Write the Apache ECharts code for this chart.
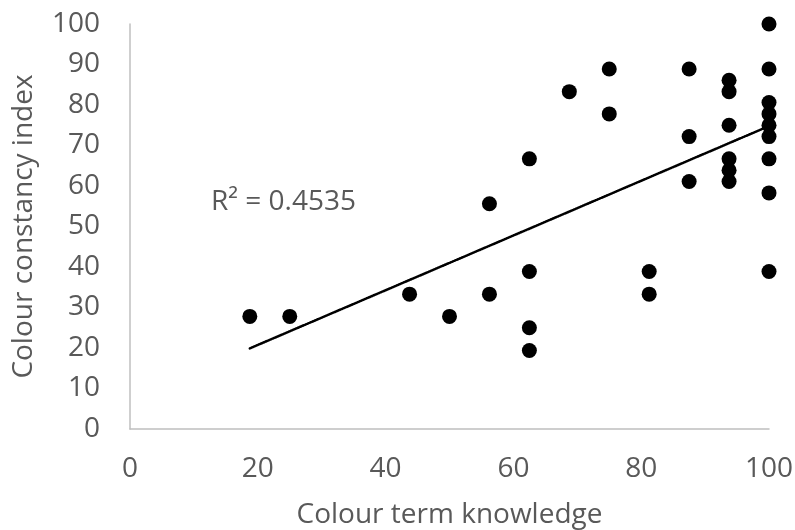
<!DOCTYPE html>
<html>
<head>
<meta charset="utf-8">
<script src="https://cdn.jsdelivr.net/npm/echarts@6/dist/echarts.min.js"></script>
<style>html,body{margin:0;padding:0;background:#fff}#c{width:795px;height:530px}</style>
</head>
<body>
<div id="c"></div>
<script>
// Colour term knowledge (x) vs colour constancy index (y)
const xValues = [18.75, 25, 43.75, 50, 56.25, 56.25, 62.5, 62.5, 62.5, 62.5, 68.75, 75, 75,
  81.25, 81.25, 87.5, 87.5, 87.5, 93.75, 93.75, 93.75, 93.75, 93.75, 93.75,
  100, 100, 100, 100, 100, 100, 100, 100, 100];
const yValues = [27.8, 27.8, 33.3, 27.8, 55.6, 33.3, 66.7, 38.9, 25, 19.4, 83.3, 88.9, 77.8,
  38.9, 33.3, 88.9, 72.2, 61.1, 86.1, 83.3, 75, 66.7, 63.9, 61.1,
  100, 88.9, 80.6, 77.8, 75, 72.2, 66.7, 58.3, 38.9];
// linear trendline endpoints
const trendX = [18.75, 100];
const trendY = [19.9, 74.8];
const rSquaredLabel = 'R² = 0.4535';
const xTicks = [0, 20, 40, 60, 80, 100];
const yTicks = [0, 10, 20, 30, 40, 50, 60, 70, 80, 90, 100];

const points = xValues.map((x, i) => [x, yValues[i]]);
const trend = trendX.map((x, i) => [x, trendY[i]]);
const FONT = '"Open Sans", sans-serif';
const TXT = '#595959';

const chart = echarts.init(document.getElementById('c'), null, {renderer: 'canvas'});
chart.setOption({
  animation: false,
  backgroundColor: '#fff',
  grid: {left: 130, right: 26, top: 24, bottom: 101, containLabel: false, outerBoundsMode: 'none'},
  xAxis: {
    type: 'value', min: 0, max: 100, interval: 20,
    name: 'Colour term knowledge', nameLocation: 'middle', nameGap: 72,
    nameTextStyle: {color: TXT, fontSize: 28, fontFamily: FONT},
    axisLine: {show: true, lineStyle: {color: '#BFBFBF', width: 1.5}},
    axisTick: {show: false},
    splitLine: {show: false},
    axisLabel: {color: TXT, fontSize: 28, fontFamily: FONT, margin: 26,
      formatter: v => xTicks.includes(v) ? String(v) : ''}
  },
  yAxis: {
    type: 'value', min: 0, max: 100, interval: 10,
    name: 'Colour constancy index', nameLocation: 'middle', nameGap: 92,
    nameTextStyle: {color: TXT, fontSize: 28, fontFamily: FONT},
    axisLine: {show: true, lineStyle: {color: '#BFBFBF', width: 1.5}},
    axisTick: {show: false},
    splitLine: {show: false},
    axisLabel: {color: TXT, fontSize: 28, fontFamily: FONT, margin: 30,
      formatter: v => yTicks.includes(v) ? String(v) : ''}
  },
  series: [
    {
      type: 'scatter', data: points, symbol: 'circle', symbolSize: 15,
      itemStyle: {color: '#000', opacity: 1}, z: 3
    },
    {
      type: 'line', data: trend, symbol: 'none', z: 4,
      lineStyle: {color: '#000', width: 2.5, type: [1.5, 1], cap: 'round'}
    }
  ],
  graphic: [{
    type: 'text', left: 211, top: 188,
    style: {text: rSquaredLabel, fill: TXT, font: '28px "Open Sans", sans-serif'}
  }]
});
</script>
</body>
</html>
